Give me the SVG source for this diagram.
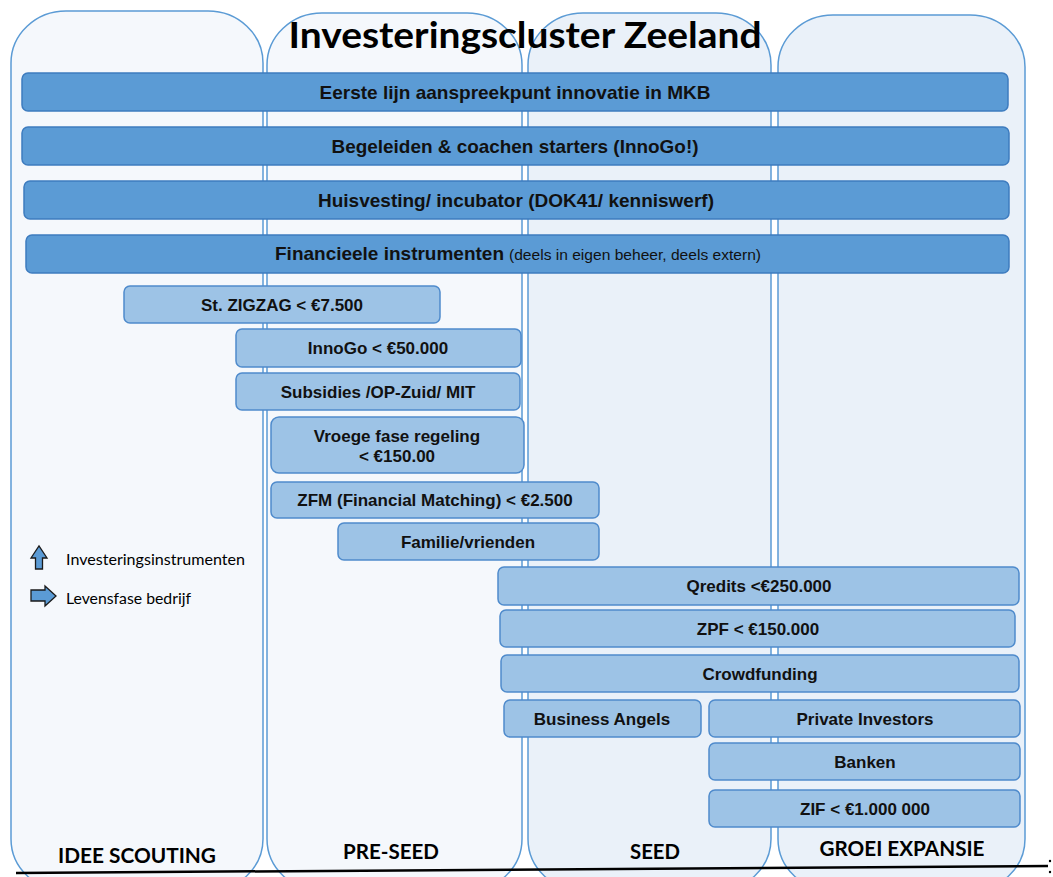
<svg xmlns="http://www.w3.org/2000/svg" width="1053" height="877" viewBox="0 0 1053 877">
<defs>
<style>
.col{stroke:#5b9bd5;stroke-width:1.5}
.c12{fill:#f5f8fc}
.c34{fill:#eaf1f9}
.dark{fill:#5b9bd5;stroke:#3e7cbf;stroke-width:1.5}
.light{fill:#9dc3e6;stroke:#4f8bcc;stroke-width:1.5}
.tb{font-family:"Liberation Sans",Arial,sans-serif;font-weight:bold;fill:#111;text-anchor:middle}
.d{font-size:19px}
.l{font-size:17px}
.cal{font-family:Lato,"Open Sans",sans-serif;fill:#000}
.lab{font-weight:bold;font-size:21px;text-anchor:middle}
.icon{fill:#5b9bd5;stroke:#1a1a1a;stroke-width:1.3}
</style>
</defs>
<rect width="1053" height="877" fill="#ffffff"/>
<g id="columns">
<g id="col-idee"><rect class="col c12" x="11" y="11" width="252" height="880" rx="55" ry="52"/></g>
<g id="col-preseed"><rect class="col c12" x="267" y="13" width="255" height="878" rx="55" ry="52"/></g>
<g id="col-seed"><rect class="col c34" x="528" y="13" width="243" height="878" rx="55" ry="52"/></g>
<g id="col-groei"><rect class="col c34" x="778" y="15" width="247" height="876" rx="55" ry="52"/></g>
</g>
<g id="title"><text class="cal" x="525" y="48" font-size="36" font-weight="bold" text-anchor="middle" textLength="473" lengthAdjust="spacingAndGlyphs">Investeringscluster Zeeland</text></g>
<g id="bar-eerste"><rect class="dark" x="22" y="73" width="986" height="38" rx="6"/><text class="tb d" x="515" y="99" textLength="391" lengthAdjust="spacingAndGlyphs">Eerste lijn aanspreekpunt innovatie in MKB</text></g>
<g id="bar-begeleiden"><rect class="dark" x="22" y="127" width="987" height="38" rx="6"/><text class="tb d" x="515" y="153" textLength="367" lengthAdjust="spacingAndGlyphs">Begeleiden &amp; coachen starters (InnoGo!)</text></g>
<g id="bar-huisvesting"><rect class="dark" x="24" y="181" width="985" height="38" rx="6"/><text class="tb d" x="516" y="207" textLength="396" lengthAdjust="spacingAndGlyphs">Huisvesting/ incubator (DOK41/ kenniswerf)</text></g>
<g id="bar-financieel"><rect class="dark" x="26" y="235" width="983" height="38" rx="6"/><text x="275" y="260" font-family="Liberation Sans,Arial,sans-serif" font-weight="bold" font-size="18.5" fill="#111" textLength="229" lengthAdjust="spacingAndGlyphs">Financieele instrumenten</text><text x="509" y="260" font-family="Liberation Sans,Arial,sans-serif" font-size="15" fill="#111" textLength="252" lengthAdjust="spacingAndGlyphs">(deels in eigen beheer, deels extern)</text></g>
<g id="zigzag"><rect class="light" x="124" y="286" width="316" height="37" rx="6"/><text class="tb l" x="282" y="311">St. ZIGZAG &lt; €7.500</text></g>
<g id="innogo"><rect class="light" x="236" y="329" width="285" height="38" rx="6"/><text class="tb l" x="378" y="354">InnoGo &lt; €50.000</text></g>
<g id="subsidies"><rect class="light" x="236" y="373" width="284" height="37" rx="6"/><text class="tb l" x="378" y="398">Subsidies /OP-Zuid/ MIT</text></g>
<g id="vroege"><rect class="light" x="271" y="417" width="253" height="56" rx="8"/><text class="tb l" x="397" y="442">Vroege fase regeling</text><text class="tb l" x="397" y="462">&lt; €150.00</text></g>
<g id="zfm"><rect class="light" x="271" y="482" width="328" height="36" rx="6"/><text class="tb l" x="435" y="506">ZFM (Financial Matching) &lt; €2.500</text></g>
<g id="familie"><rect class="light" x="338" y="523" width="261" height="37" rx="6"/><text class="tb l" x="468" y="548">Familie/vrienden</text></g>
<g id="qredits"><rect class="light" x="498" y="567" width="521" height="38" rx="6"/><text class="tb l" x="759" y="592">Qredits &lt;€250.000</text></g>
<g id="zpf"><rect class="light" x="500" y="610" width="515" height="37" rx="6"/><text class="tb l" x="758" y="635">ZPF &lt; €150.000</text></g>
<g id="crowdfunding"><rect class="light" x="501" y="655" width="518" height="37" rx="6"/><text class="tb l" x="760" y="680">Crowdfunding</text></g>
<g id="angels"><rect class="light" x="504" y="700" width="197" height="37" rx="6"/><text class="tb l" x="602" y="725">Business Angels</text></g>
<g id="private"><rect class="light" x="709" y="700" width="311" height="37" rx="6"/><text class="tb l" x="865" y="725">Private Investors</text></g>
<g id="banken"><rect class="light" x="709" y="743" width="311" height="37" rx="6"/><text class="tb l" x="865" y="768">Banken</text></g>
<g id="zif"><rect class="light" x="709" y="790" width="311" height="37" rx="6"/><text class="tb l" x="865" y="815">ZIF &lt; €1.000 000</text></g>
<g id="labels">
<text class="cal lab" x="137" y="863" textLength="158" lengthAdjust="spacingAndGlyphs">IDEE SCOUTING</text>
<text class="cal lab" x="391" y="859" textLength="96" lengthAdjust="spacingAndGlyphs">PRE-SEED</text>
<text class="cal lab" x="655" y="859" textLength="50" lengthAdjust="spacingAndGlyphs">SEED</text>
<text class="cal lab" x="902" y="856" textLength="165" lengthAdjust="spacingAndGlyphs">GROEI EXPANSIE</text>
</g>
<g id="legend">
<path class="icon" d="M31,558 L39,546 L47,558 L42.5,558 L42.5,569 L35.5,569 L35.5,558 Z"/>
<text class="cal" x="66" y="565" font-size="15.5" textLength="179" lengthAdjust="spacingAndGlyphs">Investeringsinstrumenten</text>
<path class="icon" d="M31,590 L45,590 L45,586 L56,596 L45,606 L45,601 L31,601 Z"/>
<text class="cal" x="66" y="604" font-size="15.5" textLength="125" lengthAdjust="spacingAndGlyphs">Levensfase bedrijf</text>
</g>
<g id="connectors">
<line x1="16" y1="873" x2="1048" y2="866" stroke="#000" stroke-width="2.5"/>
<circle cx="1050" cy="861" r="1.2" fill="#000"/>
<circle cx="1050" cy="872" r="1.2" fill="#000"/>
</g>
</svg>
